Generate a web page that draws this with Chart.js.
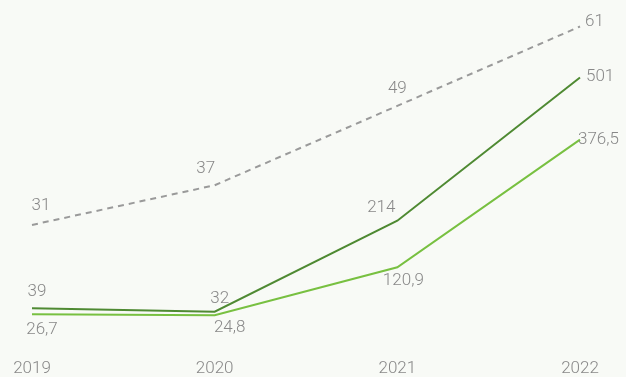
<!DOCTYPE html>
<html><head><meta charset="utf-8">
<script src="https://cdn.jsdelivr.net/npm/chart.js@4/dist/chart.umd.min.js"></script>
<style>
html,body{margin:0;padding:0;background:#f8faf6;}
#wrap{width:626px;height:377px;position:relative;}
</style></head>
<body><div id="wrap"><canvas id="c" width="626" height="377"></canvas></div>
<script>
const years = ['2019', '2020', '2021', '2022'];
const seriesDashed = [31, 37, 49, 61];
const seriesDark = [39, 32, 214, 501];
const seriesLight = [26.7, 24.8, 120.9, 376.5];

const fmt = v => String(v).replace('.', ',');
const FAMILY = 'Roboto, "Liberation Sans", sans-serif';
const FONT = '300 17px ' + FAMILY;
const TXT = '#888888';

// label offsets relative to each point [dx, dy, align]
const labelPos = {
  0: [[9, -19, 'center'], [-9, -16, 'center'], [0, -17, 'center'], [5, -5, 'left']],
  1: [[5, -16, 'center'], [5, -13, 'center'], [-16, -13, 'center'], [6, -1, 'left']],
  2: [[10, 15, 'center'], [15, 13, 'center'], [6, 14, 'center'], [-2, 0, 'left']]
};

const labelPlugin = {
  id: 'vlabels',
  afterDatasetsDraw(chart) {
    const ctx = chart.ctx;
    ctx.save();
    ctx.font = FONT;
    ctx.fillStyle = TXT;
    ctx.textBaseline = 'middle';
    chart.data.datasets.forEach((ds, di) => {
      const meta = chart.getDatasetMeta(di);
      meta.data.forEach((pt, i) => {
        const p = labelPos[di][i];
        ctx.textAlign = p[2];
        ctx.fillText(fmt(ds.data[i]), pt.x + p[0], pt.y + p[1]);
      });
    });
    ctx.restore();
  }
};

new Chart(document.getElementById('c'), {
  type: 'line',
  data: {
    labels: years,
    datasets: [
      { data: seriesDashed, yAxisID: 'y2', borderColor: '#9a9a9a', borderWidth: 2, borderDash: [6, 5], pointRadius: 0, tension: 0 },
      { data: seriesDark, yAxisID: 'y', borderColor: '#4f8a33', borderWidth: 2, pointRadius: 0, tension: 0 },
      { data: seriesLight, yAxisID: 'y', borderColor: '#78c041', borderWidth: 2, pointRadius: 0, tension: 0 }
    ]
  },
  options: {
    responsive: false,
    animation: false,
    layout: { padding: { left: 32, right: 46, top: 10, bottom: -14 } },
    plugins: { legend: { display: false }, tooltip: { enabled: false } },
    scales: {
      x: {
        offset: false,
        grid: { display: false, drawTicks: false },
        border: { display: false },
        ticks: { color: TXT, font: { family: FAMILY, size: 17, weight: 300 }, padding: 12, maxRotation: 0, autoSkip: false }
      },
      y: { display: false, min: -38, max: 636 },
      y2: { display: false, min: 12.6, max: 63.5 }
    }
  },
  plugins: [labelPlugin]
});
</script></body></html>
